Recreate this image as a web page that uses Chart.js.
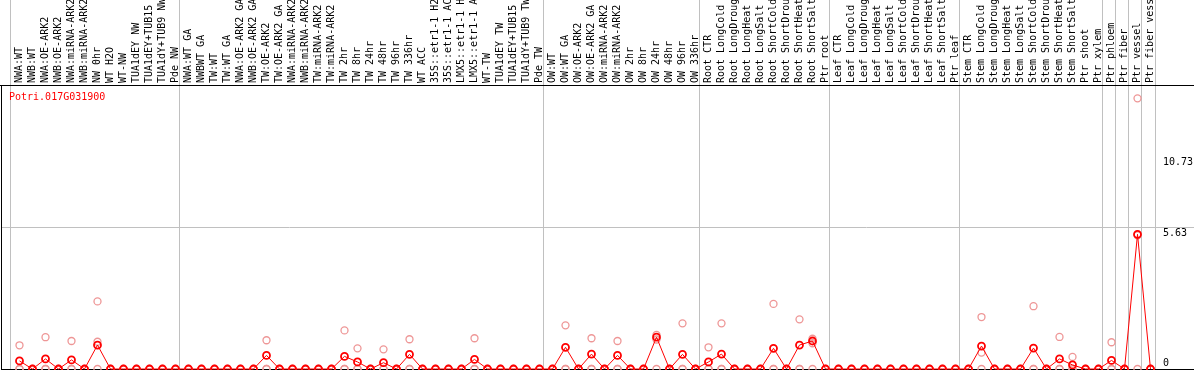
<!DOCTYPE html>
<html><head><meta charset="utf-8">
<script src="https://cdn.jsdelivr.net/npm/chart.js@4/dist/chart.umd.min.js"></script>
<style>html,body{margin:0;padding:0;background:#fff;overflow:hidden}#wrap{width:1194px;height:370px;position:relative}</style>
</head><body><div id="wrap"><canvas id="c" width="1194" height="370"></canvas></div>
<script>
const categories = [
 'NWA:WT','NWB:WT','NWA:OE-ARK2','NWB:OE-ARK2','NWA:miRNA-ARK2','NWB:miRNA-ARK2','NW 0hr','WT H2O','WT-NW','TUA1dEY NW','TUA1dEY+TUB15 NW','TUA1dY+TUB9 NW','Pde NW',
 'NWA:WT GA','NWBWT GA','TW:WT','TW:WT GA','NWA:OE-ARK2 GA','NWB:OE-ARK2 GA','TW:OE-ARK2','TW:OE-ARK2 GA','NWA:miRNA-ARK2','NWB:miRNA-ARK2','TW:miRNA-ARK2','TW:miRNA-ARK2','TW 2hr','TW 8hr','TW 24hr','TW 48hr','TW 96hr','TW 336hr','WT ACC','35S::etr1-1 H2O','35S::etr1-1 ACC','LMX5::etr1-1 H2O','LMX5::etr1-1 ACC','WT-TW','TUA1dEY TW','TUA1dEY+TUB15 TW','TUA1dY+TUB9 TW','Pde TW',
 'OW:WT','OW:WT GA','OW:OE-ARK2','OW:OE-ARK2 GA','OW:miRNA-ARK2','OW:miRNA-ARK2','OW 2hr','OW 8hr','OW 24hr','OW 48hr','OW 96hr','OW 336hr',
 'Root CTR','Root LongCold','Root LongDrought','Root LongHeat','Root LongSalt','Root ShortCold','Root ShortDrought','Root ShortHeat','Root ShortSalt','Ptr root',
 'Leaf CTR','Leaf LongCold','Leaf LongDrought','Leaf LongHeat','Leaf LongSalt','Leaf ShortCold','Leaf ShortDrought','Leaf ShortHeat','Leaf ShortSalt','Ptr leaf',
 'Stem CTR','Stem LongCold','Stem LongDrought','Stem LongHeat','Stem LongSalt','Stem ShortCold','Stem ShortDrought','Stem ShortHeat','Stem ShortSalt','Ptr shoot','Ptr xylem',
 'Ptr phloem','Ptr fiber','Ptr vessel','Ptr fiber vessel'
];
const groupBoundaries = [0,13,41,53,63,73,84,85,86,87,88];
const meanValues = [
 0.32,0,0.40,0,0.36,0,0.95,0,0,0,0,0,0,
 0,0,0,0,0,0,0.54,0,0,0,0,0,0.50,0.28,0,0.25,0,0.58,0,0,0,0,0.38,0,0,0,0,0,
 0,0.86,0,0.59,0,0.54,0,0,1.26,0,0.58,0,
 0.28,0.59,0,0,0,0.82,0,0.95,1.11,0,
 0,0,0,0,0,0,0,0,0,0,
 0,0.91,0,0,0,0.83,0,0.40,0.16,0,0,
 0.34,0,5.34,0
];
const replicateA = [
 0.94,0,1.26,0,1.11,0,2.68,0,0,0,0,0,0,
 0,0,0,0,0,0,1.14,0,0,0,0,0,1.53,0.82,0,0.78,0,1.18,0,0,0,0,1.22,0,0,0,0,0,
 0,1.73,0,1.22,0,1.11,0,0,1.35,0,1.81,0,
 0.86,1.81,0,0,0,2.58,0,1.97,1.20,0,
 0,0,0,0,0,0,0,0,0,0,
 0,2.06,0,0,0,2.49,0,1.27,0.48,0,0,
 1.06,0,10.73,0
];
const replicateB = [
 0,0,0,0,0,0,1.08,0,0,0,0,0,0,
 0,0,0,0,0,0,0,0,0,0,0,0,0,0,0,0,0,0,0,0,0,0,0,0,0,0,0,0,
 0,0,0,0,0,0,0,0,1.17,0,0,0,
 0,0,0,0,0,0,0,0,1.02,0,
 0,0,0,0,0,0,0,0,0,0,
 0,0.65,0,0,0,0,0,0,0,0,0,
 0,0,5.30,0
];
const replicateC = meanValues.map(() => 0);
const geneLabel = 'Potri.017G031900';
const yMax = 11.26;
const yTickValues = [0, 5.63, 8.445, 11.26];
const yTickLabels = [['0',''], ['','5.63'], ['','10.73'], ''];
const yGridColors = ['#000000', '#c0c0c0', 'rgba(0,0,0,0)', '#000000'];

const FONT = {family: "'DejaVu Sans Mono', monospace", size: 10};
const cellShift = 0.654;
const toPts = arr => arr.map((v, i) => ({x: i, y: v}));
const boundaryVals = groupBoundaries.map(k => k - cellShift);

const framePlugin = {
  id: 'frame',
  afterDraw(chart) {
    const {ctx, chartArea} = chart;
    ctx.save();
    ctx.strokeStyle = '#000'; ctx.lineWidth = 1;
    ctx.beginPath();
    ctx.moveTo(chartArea.left + 0.5, chartArea.top);
    ctx.lineTo(chartArea.left + 0.5, chartArea.bottom + 1);
    ctx.moveTo(0, chartArea.top + 0.5);
    ctx.lineTo(chartArea.left, chartArea.top + 0.5);
    ctx.stroke();
    ctx.fillStyle = '#ff0000';
    ctx.font = "10px 'DejaVu Sans Mono', monospace";
    ctx.textBaseline = 'middle';
    ctx.fillText(geneLabel, chartArea.left + 8, chartArea.top + 12);
    ctx.restore();
  }
};

new Chart(document.getElementById('c'), {
  type: 'line',
  data: {
    datasets: [
      {data: toPts(meanValues), borderColor: '#ff0000', borderWidth: 1, tension: 0,
       pointRadius: 3.5, pointBorderWidth: 1.8, pointBorderColor: '#ff0000', pointBackgroundColor: 'rgba(0,0,0,0)', clip: false},
      {data: toPts(replicateA), showLine: false, pointRadius: 3.5, pointBorderWidth: 1.3, pointBorderColor: 'rgb(238,150,150)', pointBackgroundColor: 'rgba(0,0,0,0)', clip: false},
      {data: toPts(replicateB), showLine: false, pointRadius: 3.5, pointBorderWidth: 1.3, pointBorderColor: 'rgb(238,150,150)', pointBackgroundColor: 'rgba(0,0,0,0)', clip: false},
      {data: toPts(replicateC), showLine: false, pointRadius: 3.5, pointBorderWidth: 1.3, pointBorderColor: 'rgb(238,150,150)', pointBackgroundColor: 'rgba(0,0,0,0)', clip: false}
    ]
  },
  options: {
    responsive: false, animation: false, devicePixelRatio: 1, events: [],
    layout: {autoPadding: false, padding: {left: 1, right: 0, top: 0, bottom: 1}},
    plugins: {legend: {display: false}, tooltip: {enabled: false}},
    scales: {
      x: {
        type: 'linear', position: 'top', min: -1.423, max: 87.346,
        afterBuildTicks: s => {
          const t = categories.map((c, i) => ({value: i})).concat(boundaryVals.map(v => ({value: v})));
          t.sort((a, b) => a.value - b.value);
          s.ticks = t;
        },
        afterFit: s => { s.height = 85; s.paddingLeft = 0; s.paddingRight = 0; },
        ticks: {
          autoSkip: false, minRotation: 90, maxRotation: 90, padding: -83, labelOffset: 12,
          font: FONT, color: '#000',
          callback: v => Number.isInteger(v) ? categories[v] : ''
        },
        grid: {
          tickLength: 85, lineWidth: 1,
          color: c => (c.tick && !Number.isInteger(c.tick.value)) ? '#c0c0c0' : 'rgba(0,0,0,0)'
        },
        border: {display: true, color: '#000', width: 1}
      },
      y: {
        type: 'linear', position: 'right', min: 0, max: yMax,
        afterBuildTicks: s => { s.ticks = yTickValues.map(v => ({value: v})); },
        afterFit: s => { s.width = 39; s.paddingTop = 0; s.paddingBottom = 0; },
        ticks: {padding: -31, font: FONT, color: '#000', callback: (v, i) => yTickLabels[i]},
        grid: {tickLength: 39, lineWidth: 1, color: c => yGridColors[c.index]},
        border: {display: false}
      }
    }
  },
  plugins: [framePlugin]
});
</script></body></html>
